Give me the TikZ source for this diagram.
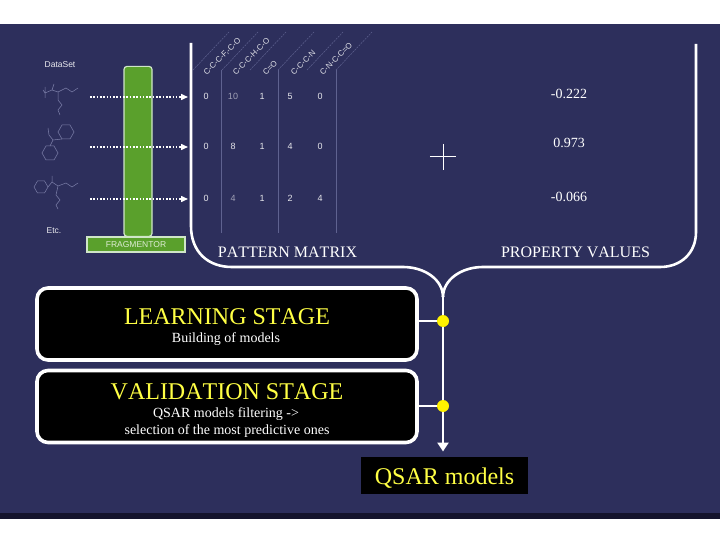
\documentclass[tikz,border=0pt]{standalone}
\usepackage{fontspec}
\setmainfont[Kerning=Off]{Liberation Serif}
\setsansfont{Liberation Sans}
\usetikzlibrary{arrows.meta,calc}
\definecolor{navy}{HTML}{2D2F5C}
\definecolor{darkstrip}{HTML}{14142C}
\definecolor{gbar}{HTML}{5AA02C}
\definecolor{gedge}{HTML}{CFE6C8}
\definecolor{faint}{HTML}{7D80AA}
\definecolor{gridc}{HTML}{5F6290}
\definecolor{yel}{HTML}{FFFF44}
\tikzset{
 x=1pt,y=-1pt,
 bracket/.style={draw=white,line width=2.6pt},
 stagebox/.style={draw=white,line width=3.6pt,fill=black,rounded corners=11pt,inner sep=0pt},
 stagetitle/.style={text=yel,font=\fontsize{24}{24}\selectfont,inner sep=0pt},
 stagesub/.style={text=white,font=\fontsize{14}{14}\selectfont,inner sep=0pt},
 label/.style={text=white,font=\fontsize{16}{16}\selectfont,inner sep=0pt},
 val/.style={text=white,font=\fontsize{14}{14}\selectfont,inner sep=0pt},
 cell/.style={text=white!88!navy,font=\sffamily\fontsize{9}{9}\selectfont,inner sep=0pt},
 small/.style={text=white!90!navy,font=\sffamily\fontsize{8.5}{8.5}\selectfont,inner sep=0pt},
 head/.style={text=white!85!navy,font=\sffamily\fontsize{8}{8}\selectfont,inner sep=0pt,rotate=45,anchor=west},
 mol/.style={draw=faint,line width=0.5pt},
 grid/.style={draw=gridc,line width=0.7pt},
 diag/.style={draw=gridc,line width=0.5pt,dash pattern=on 2pt off 1pt},
 dotarrow/.style={draw=white,line width=1.5pt,dash pattern=on 1.6pt off 1.7pt,-{Triangle[length=7pt,width=6pt]}},
 ydot/.style={circle,fill=yellow,draw=none,minimum size=12pt,inner sep=0pt},
}
\begin{document}
\begin{tikzpicture}
\useasboundingbox (0,0) rectangle (720,540);
\fill[white] (0,0) rectangle (720,540);
\fill[navy] (0,24) rectangle (720,514);
\fill[darkstrip] (0,513) rectangle (720,518.5);

% molecules
\draw[mol] (58,92)--(66,88)--(72,92)--(78,88);
\draw[mol] (58,92)--(52,90)--(54,84) (52,90)--(45,93)--(45,87) (45,93)--(45,98) (45,93)--(43,90);
\draw[mol] (58,92)--(58,100)--(62,105)--(58,110)--(60,115);
\draw[mol] (74,132)--(70,125)--(62,125)--(58,132)--(62,139)--(70,139)--cycle;
\draw[mol] (58,153)--(54,146)--(46,146)--(42,153)--(46,160)--(54,160)--cycle;
\draw[mol] (62,139)--(53,140)--(49,135)--(48,128) (53,140)--(50,146);
\draw[mol] (48,187)--(44.5,181)--(37.5,181)--(34,187)--(37.5,193)--(44.5,193)--cycle;
\draw[mol] (48,187)--(52,182)--(52,176) (52,182)--(58,186)--(66,183)--(72,187)--(78,183);
\draw[mol] (58,186)--(56,195)--(60,200)--(56,205)--(58,209);
\node[small] (dataset) at (60,65) {DataSet};
\node[small] (etc) at (54,231) {Etc.};

% fragmentor
\node[draw=gedge,line width=1.2pt,fill=gbar,minimum width=28pt,minimum height=170pt,inner sep=0pt,anchor=south,rounded corners=3pt] (bar) at (138,237) {};
\node[draw=gedge,line width=1.2pt,fill=gbar,minimum width=98pt,minimum height=15pt,inner sep=0pt,text=white!80!gbar,font=\sffamily\fontsize{8.5}{8.5}\selectfont] (frag) at (136,244.5) {FRAGMENTOR};

% grid
\foreach \x/\n in {221/a,278/b,336/c}{
  \coordinate (g\n t) at (\x,70); \coordinate (g\n b) at (\x,233);
  \draw[grid] (g\n t)--(g\n b);
}
\foreach \x in {193,222,250,278,307,336}{
  \draw[diag] (\x,70)--(\x+36,32);
}
\node[head] (h1) at (205,74) {C-C-C-F,-C-O};
\node[head] (h2) at (234,74) {C-C-C-H-C-O};
\node[head] (h3) at (264,74) {C=O};
\node[head] (h4) at (292,74) {C-C-C-N};
\node[head] (h5) at (321,74) {C-N-C-C=O};

% matrix
\foreach \y/\r/\a/\b/\c/\d/\e/\k in {96/a/0/10/1/5/0/55,146/b/0/8/1/4/0/88,198/c/0/4/1/2/4/55}{
  \node[cell] (c\r1) at (206,\y) {\a};
  \node[cell,text=white!\k!navy] (c\r2) at (233,\y) {\b};
  \node[cell] (c\r3) at (262,\y) {\c};
  \node[cell] (c\r4) at (290,\y) {\d};
  \node[cell] (c\r5) at (320,\y) {\e};
}

% dotted arrows
\foreach \y/\r in {97/a,147/b,199/c}{
  \coordinate (s\r) at (90,\y); \coordinate (e\r) at (188,\y);
  \draw[dotarrow] (s\r)--(e\r);
}

% brackets
\coordinate (bl) at (191,43);
\coordinate (br) at (696,44);
\coordinate (junc) at (443,297);
\coordinate (tipend) at (443,451.5);
\draw[bracket] (bl)--(191,226) .. controls (191,252) and (208,267) .. (232,267)
  -- (403,267) .. controls (425,267) and (443,280) .. (junc);
\draw[bracket] (br)--(696,232) .. controls (696,253) and (681,267) .. (660,267)
  -- (483,267) .. controls (461,267) and (443,280) .. (junc);

% stage boxes
\node[stagebox,minimum width=380pt,minimum height=72pt] (learn) at (227,324) {};
\node[stagebox,minimum width=380pt,minimum height=72pt] (valid) at (227,406.5) {};
\node[stagetitle] (lt) at (227,317) {LEARNING STAGE};
\node[stagesub] (ls) at (226,339) {Building of models};
\node[stagetitle] (vt) at (227,392) {VALIDATION STAGE};
\node[stagesub] (vs1) at (226,414) {QSAR models filtering ->};
\node[stagesub] (vs2) at (227,431) {selection of the most predictive ones};

% flow
\draw[draw=white,line width=2.6pt,-{Triangle[length=9pt,width=11pt]}] (junc)--(tipend);
\node[ydot] (d1) at (443,321) {};
\node[ydot] (d2) at (443,406) {};
\draw[draw=white,line width=2.6pt] (learn.east|-d1)--(d1);
\draw[draw=white,line width=2.6pt] (valid.east|-d2)--(d2);
\node[fill=black,minimum width=167pt,minimum height=37pt,inner sep=0pt] (qsar) at (444.5,475.5) {};
\node[stagetitle] (qsart) at (444.5,478) {QSAR models};

% labels
\node[label] (pm) at (287.5,252.5) {PATTERN MATRIX};
\node[label] (pv) at (575.5,252.5) {PROPERTY VALUES};
\node[val] (v1) at (569,93.5) {-0.222};
\node[val] (v2) at (569,142.5) {0.973};
\node[val] (v3) at (569,196.5) {-0.066};
\node[minimum size=26pt,inner sep=0pt] (plus) at (443,157) {};
\draw[white,line width=1pt] (plus.north)--(plus.south) (plus.west)--(plus.east);
\end{tikzpicture}
\end{document}
